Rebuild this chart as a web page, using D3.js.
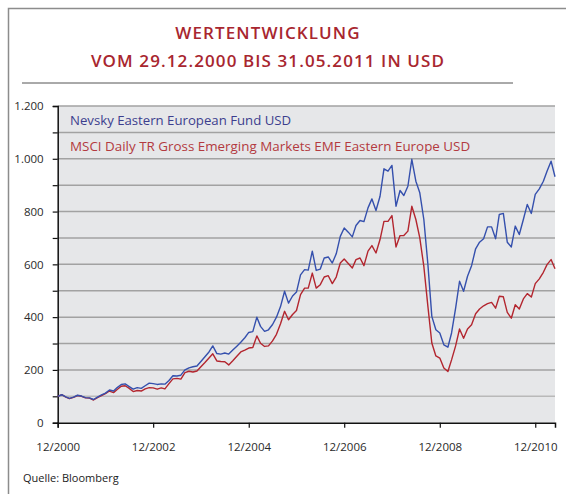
<!DOCTYPE html>
<html><head><meta charset="utf-8">
<script src="https://cdn.jsdelivr.net/npm/d3@7"></script>
<style>body{margin:0;background:#fff}svg{display:block}text{font-family:"Open Sans",sans-serif}</style>
</head><body><svg id="c" width="566" height="494"></svg>
<script>
const titleLines = ["WERTENTWICKLUNG", "VOM 29.12.2000 BIS 31.05.2011 IN USD"];
const seriesNames = ["Nevsky Eastern European Fund USD", "MSCI Daily TR Gross Emerging Markets EMF Eastern Europe USD"];
const source = "Quelle: Bloomberg";
const startDate = new Date(2000, 11, 29);
const yTicks = [0, 100, 200, 300, 400, 500, 600, 700, 800, 900, 1000, 1100, 1200];
const yLabels = ["0", "", "200", "", "400", "", "600", "", "800", "", "1.000", "", "1.200"];
const xTickLabels = ["12/2000", "12/2002", "12/2004", "12/2006", "12/2008", "12/2010"];
const nevsky = [100,106,98,92,97,104,101,95,94,88,97,105,112,124,120,133,145,147,137,127,133,130,140,150,148,145,147,146,160,178,177,180,200,208,212,215,232,250,268,291,262,260,264,260,275,290,305,322,342,345,400,365,346,352,372,400,440,498,453,480,495,560,580,578,650,577,582,624,628,605,640,706,738,722,704,747,766,762,814,848,804,858,962,953,975,820,880,861,896,998,915,871,770,600,403,352,340,295,286,340,434,536,498,555,595,659,684,697,742,742,697,789,793,684,666,745,713,770,827,793,865,886,915,953,991,932];
const msci = [100,106,97,91,96,103,100,94,93,86,95,103,110,120,114,126,138,140,130,118,122,120,128,133,132,127,132,128,148,166,168,165,190,195,192,196,212,228,245,261,234,232,231,219,235,252,268,275,283,285,329,301,289,291,310,335,375,422,390,410,425,485,510,510,567,510,523,552,557,527,552,605,620,603,586,618,624,595,650,671,643,694,763,763,785,666,709,709,726,820,770,700,592,441,302,253,245,207,194,238,291,355,320,355,371,413,431,443,451,456,434,479,477,418,396,447,431,469,489,476,527,545,570,599,618,583];
const dates = nevsky.map((d, i) => d3.timeMonth.offset(startDate, i));

const svg = d3.select("#c");
const L = 57.7, R = 555, T = 106, B = 422.7;
const x = d3.scaleTime().domain([startDate, d3.timeMonth.offset(startDate, 125.6)]).range([L, R]);
const y = d3.scaleLinear().domain([0, 1200]).range([B, T]);

// frame
svg.append("path").attr("d", `M8.5,494 V8.5 H566`).attr("fill", "none").attr("stroke", "#8c8c8c").attr("stroke-width", 1.5);
// title
svg.selectAll("text.title").data(titleLines).join("text")
  .attr("x", 268).attr("y", (d, i) => 38.5 + i * 28)
  .attr("text-anchor", "middle").attr("fill", "#a8262f").attr("font-weight", 600)
  .attr("font-size", 17).attr("letter-spacing", 1.1).text(d => d);
svg.append("line").attr("x1", 22).attr("x2", 513).attr("y1", 83).attr("y2", 83).attr("stroke", "#555").attr("stroke-width", 1);

// plot bg
svg.append("rect").attr("x", L).attr("y", T).attr("width", R - L).attr("height", B - T).attr("fill", "#e6e7e9");
// grid
svg.selectAll("line.grid").data(yTicks.filter(d => d > 0)).join("line")
  .attr("x1", L).attr("x2", R).attr("y1", d => y(d)).attr("y2", d => y(d))
  .attr("stroke", d => d === 100 ? "#b9b9b9" : "#a2a2a2").attr("stroke-width", 1.5);

// y axis
const yAxis = d3.axisLeft(y).tickValues(yTicks).tickSize(5).tickFormat((d, i) => yLabels[i]);
const gy = svg.append("g").attr("transform", `translate(${L},0)`).call(yAxis);
gy.select(".domain").attr("stroke", "#111").attr("stroke-width", 1.5);
gy.selectAll(".tick line").attr("stroke", "#111").attr("stroke-width", 1.2);
gy.selectAll(".tick text").attr("font-size", 11.5).attr("fill", "#2a2a2a").attr("font-family", "Open Sans, sans-serif").attr("x", -14);

// x axis
const xTickDates = xTickLabels.map(s => { const [mm, yy] = s.split("/"); return new Date(+yy, +mm - 1, 29); });
const xAxis = d3.axisBottom(x).tickValues(xTickDates).tickSize(5).tickFormat((d, i) => xTickLabels[i]);
const gx = svg.append("g").attr("transform", `translate(0,${B})`).call(xAxis);
gx.select(".domain").attr("stroke", "#111").attr("stroke-width", 1.5);
gx.selectAll(".tick line").attr("stroke", "#111").attr("stroke-width", 1.2);
gx.selectAll(".tick text").attr("font-size", 11.5).attr("fill", "#2a2a2a").attr("font-family", "Open Sans, sans-serif").attr("y", 20);

// lines
const line = d3.line().x((d, i) => x(dates[i])).y(d => y(d));
svg.append("path").datum(msci).attr("d", line).attr("fill", "none").attr("stroke", "#b3262f").attr("stroke-width", 1.4).attr("stroke-linejoin", "round");
svg.append("path").datum(nevsky).attr("d", line).attr("fill", "none").attr("stroke", "#3550ad").attr("stroke-width", 1.4).attr("stroke-linejoin", "round");

// legend
const legColors = ["#3c3e8e", "#b33a40"];
svg.selectAll("text.leg").data(seriesNames).join("text")
  .attr("x", 70).attr("y", (d, i) => 124.5 + i * 26.5)
  .attr("fill", (d, i) => legColors[i]).attr("font-size", (d, i) => i === 0 ? 13.2 : 13.4).text(d => d);

svg.append("text").attr("x", 23).attr("y", 482).attr("font-size", 11).attr("fill", "#222").text(source);
</script></body></html>
